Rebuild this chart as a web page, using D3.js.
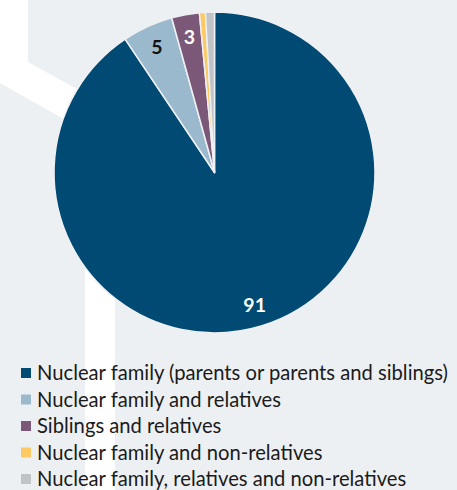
<!DOCTYPE html>
<html>
<head>
<meta charset="utf-8">
<script src="https://cdn.jsdelivr.net/npm/d3@7"></script>
<style>
  body { margin: 0; background: #edf0f2; }
  svg { display: block; }
</style>
</head>
<body>
<div id="chart"></div>
<script>
var categories = [
    "Nuclear family (parents or parents and siblings)",
    "Nuclear family and relatives",
    "Siblings and relatives",
    "Nuclear family and non-relatives",
    "Nuclear family, relatives and non-relatives"
];
var values = [90.6, 5.1, 2.8, 0.6, 0.9];
var labels = ["91", "5", "3", "", ""];
var colors = ["#004a73", "#9bb9cd", "#7c5878", "#fcc962", "#c0c4c6"];
var labelColors = ["#ffffff", "#111111", "#ffffff", "#fff", "#fff"];

var svgWidth = 457;
var svgHeight = 490;
var fontFamily = "Lato, 'Noto Sans', sans-serif";

var svg = d3.select("#chart")
    .append("svg")
    .attr("width", svgWidth)
    .attr("height", svgHeight);

// decorative background band
svg.append("rect")
    .attr("width", svgWidth)
    .attr("height", svgHeight)
    .attr("fill", "#edf0f2");

svg.append("path")
    .attr("d", "M0,0 L28,0 L28,62 L115,110 L115,490 L85,490 L85,131 L0,83 Z")
    .attr("fill", "#ffffff");

var cx = 214.5, cy = 172.5, radius = 160.5;

var pieGroup = svg.append("g")
    .attr("transform", `translate(${cx}, ${cy})`);

var pie = d3.pie().sort(null).value(d => d);
var arcs = pie(values);

var arc = d3.arc().innerRadius(0).outerRadius(radius);
var labelArc = d3.arc().innerRadius(138).outerRadius(138);

pieGroup.selectAll("path")
    .data(arcs)
    .enter()
    .append("path")
    .attr("d", arc)
    .attr("fill", (d, i) => colors[i])
    .attr("stroke", "#eef1f3")
    .attr("stroke-width", 1.5)
    .attr("stroke-linejoin", "round");

pieGroup.selectAll("text")
    .data(arcs)
    .enter()
    .append("text")
    .attr("transform", d => `translate(${labelArc.centroid(d)})`)
    .attr("dy", "0.36em")
    .attr("text-anchor", "middle")
    .attr("font-family", fontFamily)
    .attr("font-weight", 700)
    .attr("font-size", 19.5)
    .attr("fill", (d, i) => labelColors[i])
    .text((d, i) => labels[i]);

// legend
var legend = svg.append("g")
    .attr("transform", "translate(21, 373)");

var rows = legend.selectAll("g")
    .data(categories)
    .enter()
    .append("g")
    .attr("transform", (d, i) => `translate(0, ${i * 26.5})`);

rows.append("rect")
    .attr("x", 0)
    .attr("y", -5)
    .attr("width", 10)
    .attr("height", 10)
    .attr("fill", (d, i) => colors[i]);

rows.append("text")
    .attr("x", 16)
    .attr("dy", "0.36em")
    .attr("font-family", fontFamily)
    .attr("font-size", 20.2)
    .attr("fill", "#1b1b1b")
    .text(d => d);
</script>
</body>
</html>
